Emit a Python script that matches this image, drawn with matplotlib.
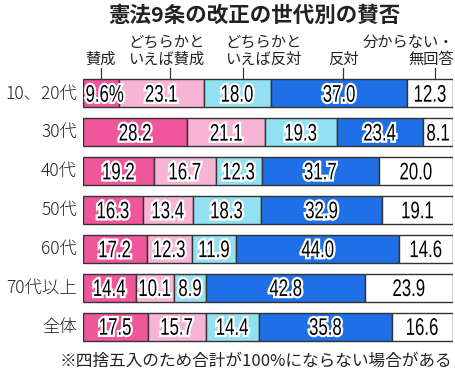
import numpy as np
import matplotlib.pyplot as plt
import matplotlib.patheffects as pe
from matplotlib.textpath import TextPath
from matplotlib.patches import PathPatch
from matplotlib.font_manager import FontProperties
from matplotlib.transforms import Affine2D

plt.rcParams['font.family'] = ['Noto Sans CJK JP', 'DejaVu Sans']

groups = ['10、20代', '30代', '40代', '50代', '60代', '70代以上', '全体']
sansei = [9.6, 28.2, 19.2, 16.3, 17.2, 14.4, 17.5]
dochira_sansei = [23.1, 21.1, 16.7, 13.4, 12.3, 10.1, 15.7]
dochira_hantai = [18.0, 19.3, 12.3, 18.3, 11.9, 8.9, 14.4]
hantai = [37.0, 23.4, 31.7, 32.9, 44.0, 42.8, 35.8]
wakaranai = [12.3, 8.1, 20.0, 19.1, 14.6, 23.9, 16.6]

series = [sansei, dochira_sansei, dochira_hantai, hantai, wakaranai]
legend_labels = ['賛成', 'どちらかと\nいえば賛成', 'どちらかと\nいえば反対', '反対', '分からない・\n無回答']
colors = ['#f0569a', '#f8b4d4', '#92e1f2', '#1f6fe6', '#ffffff']

W, H = 455, 375
fig = plt.figure(figsize=(W / 100, H / 100), dpi=100)
ax = fig.add_axes([83 / W, 1 - 346 / H, 370 / W, 272 / H])
ax.set_xlim(0, 100)
ax.set_ylim(len(groups) - 0.5, -0.5)
ax.axis('off')

num_prop = FontProperties(family='Liberation Sans')
stroke = [pe.withStroke(linewidth=3.2, foreground='white')]


def narrow_text(x, y, s, ha='center', em=24, sx=0.7):
    # condensed number label, drawn as a squeezed text path
    tp = TextPath((0, 0), s, size=em, prop=num_prop)
    ext = tp.get_extents()
    dx, dy = ax.transData.transform((x, y))
    if ha == 'center':
        ox = (ext.x0 + ext.x1) / 2
    else:
        ox = ext.x0
    oy = (ext.y0 + ext.y1) / 2
    tr = Affine2D().translate(-ox, -oy).scale(sx, 1).translate(dx, dy)
    p = PathPatch(tp, transform=tr, facecolor='black', edgecolor='none',
                  path_effects=stroke, zorder=5, clip_on=False)
    fig.add_artist(p)


vals = np.array(series, dtype=float)
vals = vals / vals.sum(axis=0) * 100  # each row full width
left = np.zeros(len(groups))
y = np.arange(len(groups))

centers_first = []
for k, (raw, col) in enumerate(zip(series, colors)):
    w = vals[k]
    ax.barh(y, w, left=left, height=0.72, color=col, edgecolor='#333333', linewidth=1.0)
    for i in range(len(groups)):
        txt = f'{raw[i]:.1f}'
        if i == 0 and k == 0:
            narrow_text(left[i] + 0.9, y[i], txt + '%', ha='left')
        else:
            narrow_text(left[i] + w[i] / 2, y[i], txt)
    centers_first.append(left[0] + w[0] / 2)
    left = left + w

# row labels
for i, g in enumerate(groups):
    ax.text(-1.6, y[i], g, ha='right', va='center', fontsize=12.5, color='#222222',
            fontweight='light', clip_on=False)

# category labels above first bar with short tick lines
px = 370 / 100  # pixels per percent
label_dx = [0, 5, 26, 4, 0]
tick_dx = [0, 9, 6, 4, 5]
for k, lab in enumerate(legend_labels):
    cx = centers_first[k]
    if k == 4:
        ax.text(100.4, -0.65, lab, ha='right', va='bottom', fontsize=11, color='#222222',
                linespacing=1.05, clip_on=False)
    else:
        ax.text(cx + label_dx[k] / px, -0.65, lab, ha='center', va='bottom', fontsize=11,
                color='#222222', linespacing=1.05, clip_on=False)
    tx = cx + tick_dx[k] / px
    ax.plot([tx, tx], [-0.66, -0.36], color='#333333', lw=0.9, clip_on=False)

fig.text(254 / W, 1 - 15 / H, '憲法9条の改正の世代別の賛否', ha='center', va='center',
         fontsize=15.5, fontweight='bold', color='#222222')
fig.text(452 / W, 1 - 361 / H, '※四捨五入のため合計が100%にならない場合がある',
         ha='right', va='center', fontsize=12, color='#222222')

fig.savefig('out.png', dpi=100)
